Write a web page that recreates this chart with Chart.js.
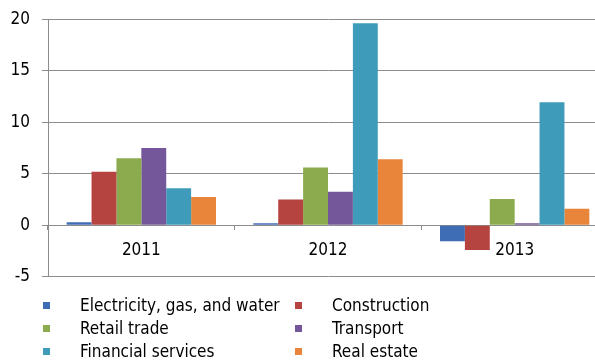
<!DOCTYPE html>
<html>
<head>
<meta charset="utf-8">
<script src="https://cdn.jsdelivr.net/npm/chart.js@4/dist/chart.umd.min.js"></script>
<style>
  html, body { margin: 0; padding: 0; background: #fff; overflow: hidden; }
  body { width: 595px; height: 360px; position: relative; font-family: "DejaVu Sans Condensed", "DejaVu Sans", sans-serif; }
  #wrap { position: absolute; left: 0; top: -3px; width: 612px; height: 302px; }
  .lg { position: absolute; font-size: 17px; color: #000; white-space: nowrap; line-height: 20px; }
  .sw { position: absolute; width: 7px; height: 7px; }
</style>
</head>
<body>
<div id="wrap"><canvas id="c" width="612" height="302"></canvas></div>
<div id="legend"></div>
<script>
// categories and series
const years = ['2011', '2012', '2013'];
const seriesNames = ['Electricity, gas, and water', 'Construction', 'Retail trade', 'Transport', 'Financial services', 'Real estate'];
const electricity = [0.3, 0.2, -1.55];
const construction = [5.2, 2.5, -2.4];
const retail = [6.5, 5.6, 2.55];
const transport = [7.5, 3.25, 0.2];
const financial = [3.6, 19.6, 11.95];
const realEstate = [2.75, 6.4, 1.6];
const yTicks = [-5, 0, 5, 10, 15, 20];

const colors = ['#3E6DB5', '#B5433F', '#8CAA4E', '#74579A', '#3E9BBA', '#E8853B'];
const values = [electricity, construction, retail, transport, financial, realEstate];

const datasets = seriesNames.map((name, i) => ({
    label: name,
    data: values[i],
    backgroundColor: colors[i],
    borderWidth: 0,
    categoryPercentage: 0.8,
    barPercentage: 1.0
}));

const font = { family: '"DejaVu Sans Condensed", "DejaVu Sans", sans-serif', size: 17 };

new Chart(document.getElementById('c').getContext('2d'), {
    type: 'bar',
    data: { labels: years, datasets: datasets },
    options: {
        responsive: false,
        animation: false,
        layout: { padding: { top: 6, right: 4, bottom: 4, left: 0 } },
        plugins: { legend: { display: false }, tooltip: { enabled: false } },
        scales: {
            x: {
                position: { y: 0 },
                grid: { offset: true, drawOnChartArea: false, tickLength: 5, color: '#8c8c8c' },
                border: { display: false },
                ticks: { color: '#000', font: font, padding: 10 }
            },
            y: {
                min: yTicks[0],
                max: yTicks[yTicks.length - 1],
                afterBuildTicks: axis => { axis.ticks = yTicks.map(v => ({ value: v })); },
                afterFit: axis => { axis.width = 48; },
                grid: { color: '#8c8c8c', tickLength: 6 },
                border: { color: '#8c8c8c' },
                ticks: { color: '#000', font: font, padding: 12 }
            }
        }
    }
});

// two-column legend below the plot
const legend = document.getElementById('legend');
seriesNames.forEach((name, i) => {
    const col = i % 2, row = Math.floor(i / 2);
    const sw = document.createElement('div');
    sw.className = 'sw';
    sw.style.left = (col ? 295 : 43) + 'px';
    sw.style.top = (302 + row * 23) + 'px';
    sw.style.background = colors[i];
    legend.appendChild(sw);
    const t = document.createElement('div');
    t.className = 'lg';
    t.textContent = name;
    t.style.left = (col ? 332 : 80) + 'px';
    t.style.top = (295 + row * 23) + 'px';
    legend.appendChild(t);
});
</script>
</body>
</html>
